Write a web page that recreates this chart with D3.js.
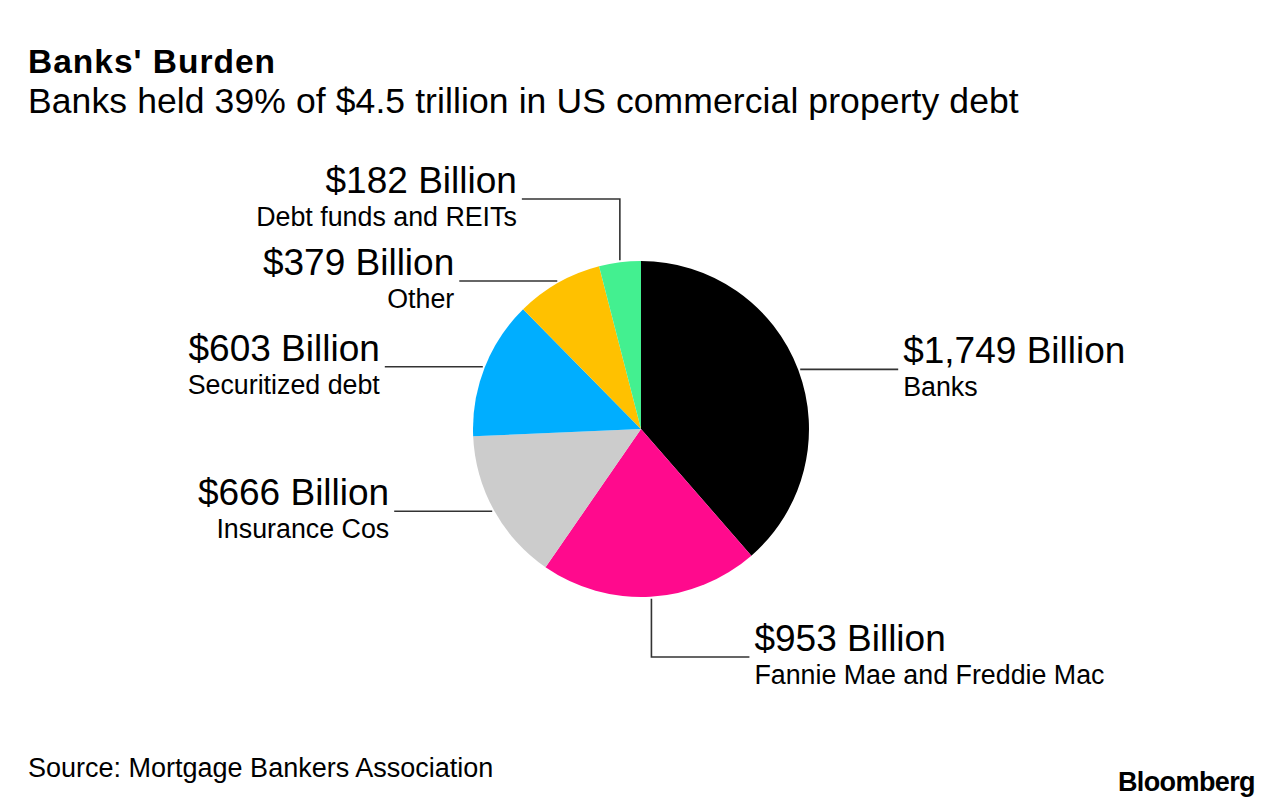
<!DOCTYPE html>
<html><head><meta charset="utf-8">
<script src="https://cdn.jsdelivr.net/npm/d3@7/dist/d3.min.js"></script>
<style>
html,body{margin:0;padding:0;background:#fff;}
svg{display:block;font-family:"Liberation Sans",Arial,Helvetica,sans-serif;}
</style></head>
<body>
<svg id="chart" width="1283" height="808"></svg>
<script>
// ---- data ----
const categories = ["Banks", "Fannie Mae and Freddie Mac", "Insurance Cos", "Securitized debt", "Other", "Debt funds and REITs"];
const values = [1749, 953, 666, 603, 379, 182];
const valueLabels = ["$1,749 Billion", "$953 Billion", "$666 Billion", "$603 Billion", "$379 Billion", "$182 Billion"];
const colors = ["#000000", "#ff0a8d", "#cccccc", "#00aeff", "#ffc100", "#43f090"];

// ---- layout (not data) ----
const W = 1283, H = 808;
const cx = 641, cy = 429, R = 168;
// leader style per slice: 'h' horizontal, 'v' vertical then horizontal (with elbow y)
const leaderType = ["h", "v", "h", "h", "h", "v"];
const elbowY = [null, 657, null, null, null, 199];
const hLen = 98;

const svg = d3.select("#chart");

svg.append("text").attr("x", 28).attr("y", 73)
  .attr("font-size", 33.5).attr("font-weight", "bold").attr("fill", "#000")
  .attr("letter-spacing", 1.0)
  .text("Banks' Burden");
svg.append("text").attr("x", 28).attr("y", 113)
  .attr("font-size", 35.5).attr("fill", "#000")
  .attr("letter-spacing", 0.1)
  .text("Banks held 39% of $4.5 trillion in US commercial property debt");

const pie = d3.pie().sort(null).value(d => d.v);
const data = categories.map((c, i) => ({c, v: values[i], lab: valueLabels[i], col: colors[i], i}));
const arcs = pie(data);
const arc = d3.arc().innerRadius(0).outerRadius(R);

const g = svg.append("g").attr("transform", `translate(${cx},${cy})`);
g.selectAll("path").data(arcs).join("path")
  .attr("d", arc).attr("fill", d => d.data.col);

const lg = svg.append("g");
arcs.forEach(a => {
  const i = a.data.i;
  const mid = (a.startAngle + a.endAngle) / 2;
  const rr = R + 2;
  const px = cx + rr * Math.sin(mid);
  const py = cy - rr * Math.cos(mid);
  const right = Math.sin(mid) > 0;
  let pts, ly, endX;
  if (leaderType[i] === "h") {
    ly = py;
    endX = right ? px + hLen : px - hLen;
    pts = [[px, py], [endX, py]];
  } else {
    ly = elbowY[i];
    const vx = cx + R * Math.sin(mid) + (right ? 1 : 0);
    const dir = (i === 1) ? 1 : -1; // horizontal direction
    endX = vx + dir * hLen;
    pts = [[vx, py], [vx, ly], [endX, ly]];
  }
  lg.append("path").attr("d", d3.line()(pts))
    .attr("fill", "none").attr("stroke", "#333").attr("stroke-width", 1.6);
  const toRight = endX > pts[pts.length - 2][0];
  const tx = toRight ? endX + 5 : endX - 5;
  const anchor = toRight ? "start" : "end";
  lg.append("text").attr("x", tx).attr("y", ly - 6)
    .attr("font-size", 37).attr("text-anchor", anchor).attr("fill", "#000")
    .text(a.data.lab);
  lg.append("text").attr("x", tx).attr("y", ly + 27)
    .attr("font-size", 26.8).attr("text-anchor", anchor).attr("fill", "#000")
    .text(a.data.c);
});

svg.append("text").attr("x", 28).attr("y", 777)
  .attr("font-size", 27).attr("fill", "#000")
  .text("Source: Mortgage Bankers Association");
svg.append("text").attr("x", 1255).attr("y", 791)
  .attr("font-size", 27).attr("font-weight", "bold").attr("text-anchor", "end")
  .attr("letter-spacing", -0.6).attr("fill", "#000")
  .text("Bloomberg");
</script>
</body></html>
